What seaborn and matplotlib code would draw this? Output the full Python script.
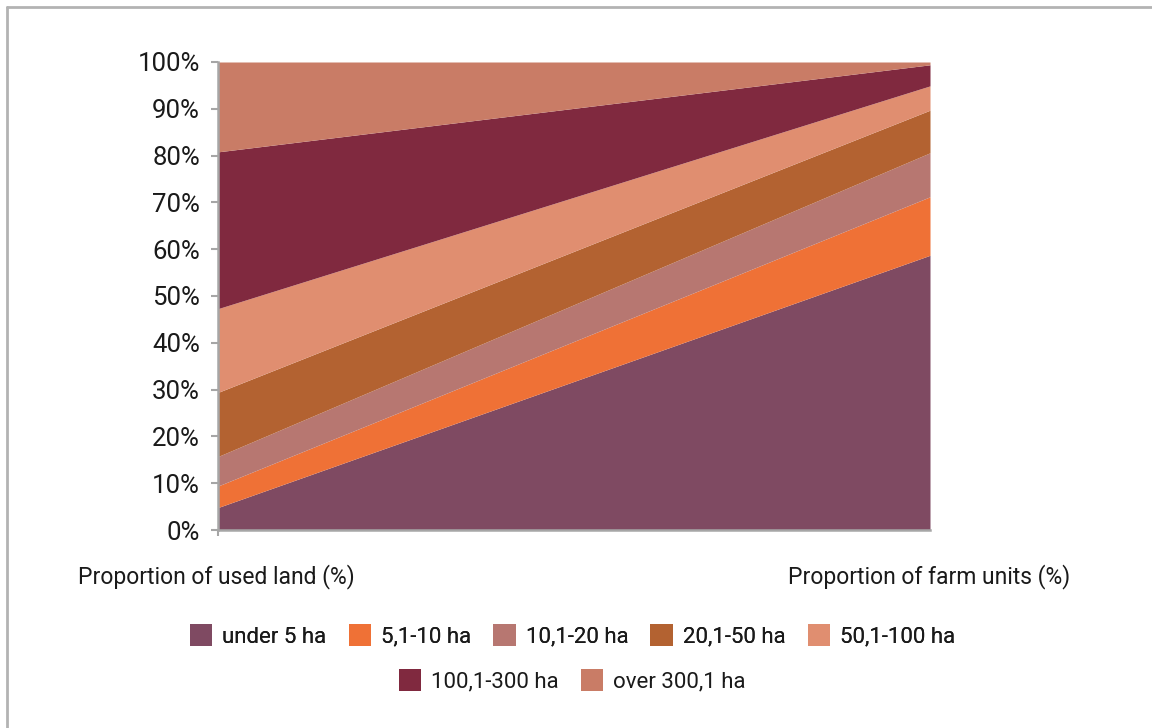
import numpy as np
import pandas as pd
import matplotlib
matplotlib.use("Agg")
import matplotlib.pyplot as plt
from matplotlib.patches import Patch
from matplotlib.lines import Line2D
import seaborn as sns

# Share of each farm-size class (%), for used land and for number of farm units
size_classes = ["under 5 ha", "5,1-10 ha", "10,1-20 ha", "20,1-50 ha",
                "50,1-100 ha", "100,1-300 ha", "over 300,1 ha"]
used_land = [4.8, 4.6, 6.3, 13.7, 17.9, 33.5, 19.2]
farm_units = [58.7, 12.5, 9.4, 9.1, 5.2, 4.5, 0.6]
measures = ["Proportion of used land (%)", "Proportion of farm units (%)"]
colors = ["#7F4A62", "#EF7136", "#B77771", "#B36231",
          "#E08E70", "#80293F", "#C97C66"]
y_ticks = list(range(0, 101, 10))

sns.set_theme(style="white")
plt.rcParams["font.family"] = ["Roboto", "DejaVu Sans"]

df = pd.DataFrame({"class": size_classes, measures[0]: used_land, measures[1]: farm_units})

fig = plt.figure(figsize=(11.52, 7.28), dpi=100)
ax = fig.add_axes([218 / 1152, 1 - 530 / 728, (930 - 218) / 1152, (530 - 62) / 728])

x = np.array([0, 1])
ax.stackplot(x, *[df.loc[i, measures].to_numpy(dtype=float) for i in range(len(df))],
             colors=colors, linewidth=0)

ax.set_xlim(0, 1)
ax.set_ylim(0, 100)
ax.set_yticks(y_ticks)
ax.set_yticklabels([f"{t}%" for t in y_ticks], fontsize=18.5, color="#1a1a1a")
ax.set_xticks([0])
ax.set_xticklabels([""])
ax.tick_params(axis="y", direction="out", length=5, width=1.5, color="#a6a6a6", pad=8, left=True)
ax.tick_params(axis="x", direction="out", length=4, width=1.5, color="#a6a6a6", bottom=True)
sns.despine(ax=ax, top=True, right=True)
for side in ("left", "bottom"):
    ax.spines[side].set_color("#a6a6a6")
    ax.spines[side].set_linewidth(1.8)
ax.set_facecolor("white")

# Category labels under the axis
fig.text(78 / 1152, 1 - 577 / 728, measures[0], fontsize=16.5, color="#1a1a1a",
         ha="left", va="center")
fig.text(1070 / 1152, 1 - 577 / 728, measures[1], fontsize=16.5, color="#1a1a1a",
         ha="right", va="center")

# Two-row centred legend
handles = [Patch(facecolor=c, edgecolor="none") for c in colors]
legend_kw = dict(loc="center", frameon=False, fontsize=16, handlelength=1.0, handleheight=1.1,
                 handletextpad=0.45, columnspacing=1.0, labelcolor="#1a1a1a")
leg1 = fig.legend(handles[:5], size_classes[:5], bbox_to_anchor=(0.497, 1 - 636 / 728),
                  ncol=5, **legend_kw)
fig.add_artist(leg1)
fig.legend(handles[5:], size_classes[5:], bbox_to_anchor=(0.497, 1 - 681 / 728),
           ncol=2, **legend_kw)

# Outer chart frame (top and left edges fall within the canvas)
fig.add_artist(Line2D([7 / 1152, 7 / 1152], [0, 1 - 7 / 728], transform=fig.transFigure,
                      color="#b3b3b3", linewidth=2))
fig.add_artist(Line2D([7 / 1152, 1], [1 - 7 / 728, 1 - 7 / 728], transform=fig.transFigure,
                      color="#b3b3b3", linewidth=2))

fig.savefig("out.png", dpi=100, facecolor="white")
